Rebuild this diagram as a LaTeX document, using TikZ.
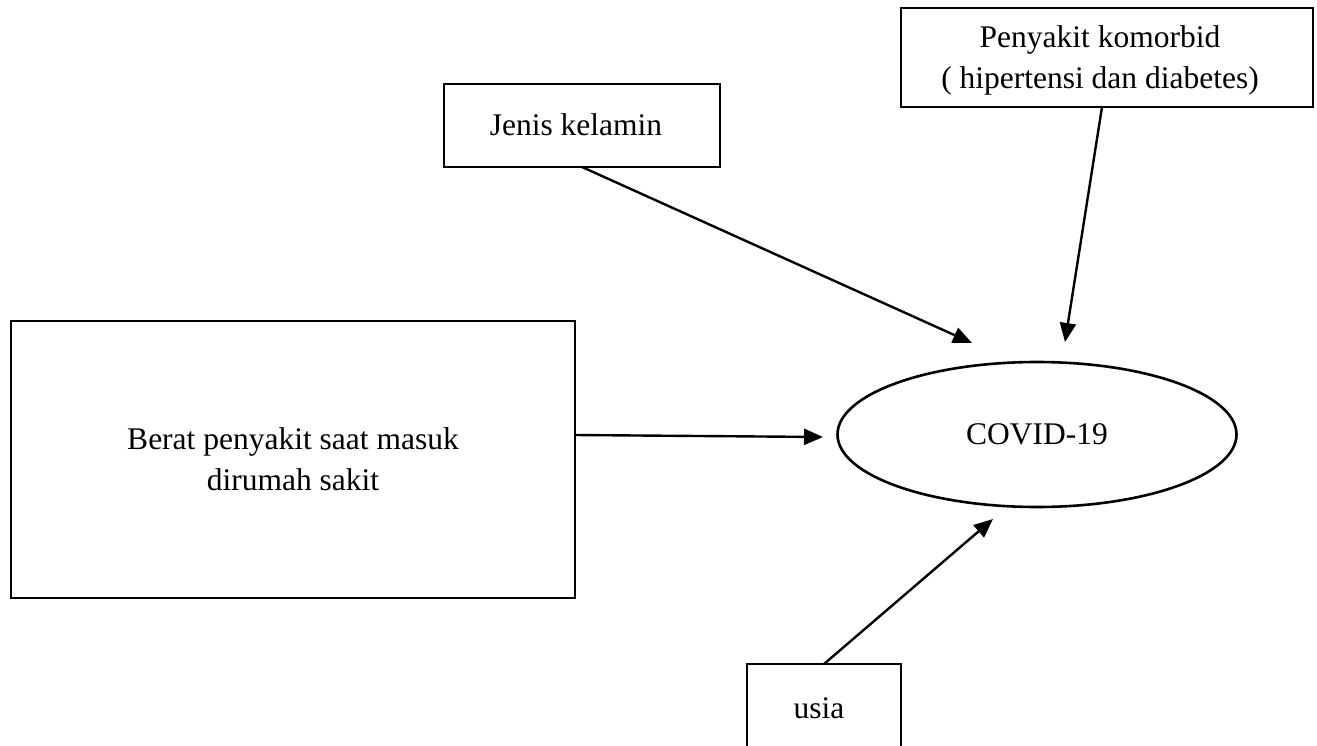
\documentclass[tikz,border=0pt]{standalone}
\usepackage{fontspec}
\setmainfont{Liberation Serif}
\usetikzlibrary{arrows.meta,shapes.geometric}
\begin{document}
\begin{tikzpicture}[x=1pt,y=-1pt,
  every node/.style={font=\fontsize{31.5}{41}\selectfont, inner sep=0pt, outer sep=0pt},
  box/.style={draw, line width=2.6pt, rectangle, align=center},
  oval/.style={draw, line width=2.6pt, ellipse},
  arr/.style={line width=2.4pt, -{Triangle[length=19pt,width=16pt]}}]
\useasboundingbox (0,0) rectangle (1317,746);
\clip (0,0) rectangle (1317,746);
\node[box, minimum width=412pt, minimum height=99pt] (kom) at (1107,57.5) {};
\node (komt) at (1100,60) [align=center] {Penyakit komorbid\\( hipertensi dan diabetes)};
\node[box, minimum width=276pt, minimum height=83pt] (jen) at (582,125.5) {};
\node (jent) at (576,125) {Jenis kelamin};
\node[box, minimum width=564pt, minimum height=277pt] (ber) at (293,459.5) {Berat penyakit saat masuk\\dirumah sakit};
\node[oval, minimum width=399pt, minimum height=145pt] (cov) at (1037,434.5) {COVID-19};
\node[box, minimum width=154pt, minimum height=92pt] (usi) at (824,710) {};
\node (usit) at (819,708) {usia};
\coordinate (t1) at (972,343);
\coordinate (t2) at (1065,342);
\coordinate (t3) at (823,437);
\coordinate (t4) at (993,519);
\draw[arr] (jen.south) -- (t1);
\draw[arr] ([xshift=-5pt]kom.south) -- (t2);
\draw[arr] ([yshift=24.5pt]ber.east) -- (t3);
\draw[arr] (usi.north) -- (t4);
\end{tikzpicture}
\end{document}
